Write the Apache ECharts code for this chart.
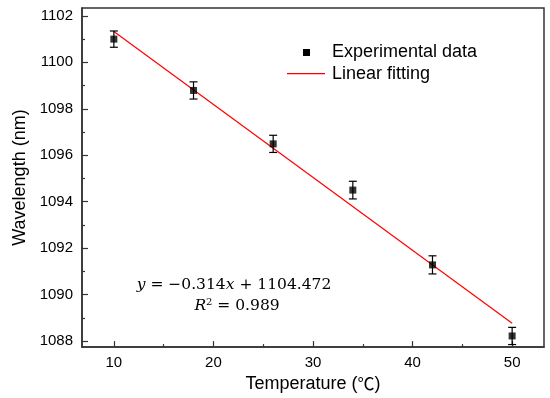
<!DOCTYPE html>
<html>
<head>
<meta charset="utf-8">
<script src="https://cdn.jsdelivr.net/npm/echarts@6/dist/echarts.min.js"></script>
<style>
html,body{margin:0;padding:0;background:#fff;}
#chart{width:550px;height:398px;}
</style>
</head>
<body>
<div id="chart"></div>
<script>
// Data
var temperatures = [10, 18, 26, 34, 42, 50];
var wavelengths = [1101.0, 1098.79, 1096.49, 1094.50, 1091.28, 1088.22];
var errors = [0.35, 0.37, 0.37, 0.38, 0.39, 0.37];
var fitX = [10, 50];
var fitY = [1101.33, 1088.77];
var xMajorTicks = [10, 20, 30, 40, 50];
var xMinorTicks = [15, 25, 35, 45];
var yMajorTicks = [1088, 1090, 1092, 1094, 1096, 1098, 1100, 1102];
var yMinorTicks = [1089, 1091, 1093, 1095, 1097, 1099, 1101];
var seriesNames = ['Experimental data', 'Linear fitting'];
var equationLine1 = '{i|y}{n| = −0.314}{i|x}{n| + 1104.472}';
var equationLine2 = '{i|R}{s|2}{n| = 0.989}';

var FONT = '"Liberation Sans", Arial, "Noto Sans CJK SC", sans-serif';
var CJK = '"Noto Sans CJK SC", sans-serif';
var MATH = '"DejaVu Serif", "Liberation Serif", serif';
var AXIS_COLOR = '#333';

var scatterData = temperatures.map(function (t, i) { return [t, wavelengths[i]]; });
var errorData = temperatures.map(function (t, i) { return [t, wavelengths[i] - errors[i], wavelengths[i] + errors[i]]; });
var fitData = fitX.map(function (x, i) { return [x, fitY[i]]; });

var chart = echarts.init(document.getElementById('chart'), null, {renderer: 'canvas'});

function plain(v) { return String(v); }

function xAxisBase(extra) {
  var a = {
    type: 'value', min: 6.8, max: 53.2, position: 'bottom',
    splitLine: {show: false},
    axisLine: {show: true, onZero: false, lineStyle: {color: AXIS_COLOR, width: 1.5}}
  };
  for (var k in extra) a[k] = extra[k];
  return a;
}
function yAxisBase(extra) {
  var a = {
    type: 'value', min: 1087.74, max: 1102.34, position: 'left',
    splitLine: {show: false},
    axisLine: {show: true, onZero: false, lineStyle: {color: AXIS_COLOR, width: 1.5}}
  };
  for (var k in extra) a[k] = extra[k];
  return a;
}

var option = {
  animation: false,
  backgroundColor: '#fff',
  grid: {left: 82, right: 6, top: 8, bottom: 50, show: true, borderColor: AXIS_COLOR, borderWidth: 1.5, backgroundColor: 'transparent'},
  xAxis: [
    xAxisBase({
      axisTick: {show: true, inside: true, length: 6, customValues: xMajorTicks, lineStyle: {color: AXIS_COLOR, width: 1.2}},
      axisLabel: {show: true, customValues: xMajorTicks, formatter: plain, fontSize: 15, color: '#000', fontFamily: FONT, margin: 8},
      name: 'Temperature ({c|℃})', nameLocation: 'middle', nameGap: 26,
      nameTextStyle: {fontSize: 18, color: '#000', fontFamily: FONT,
        rich: {c: {fontSize: 17, fontFamily: CJK, color: '#000'}}}
    }),
    xAxisBase({
      axisLine: {show: false},
      axisTick: {show: true, inside: true, length: 3, customValues: xMinorTicks, lineStyle: {color: AXIS_COLOR, width: 1.2}},
      axisLabel: {show: false}
    })
  ],
  yAxis: [
    yAxisBase({
      axisTick: {show: true, inside: true, length: 6, customValues: yMajorTicks, lineStyle: {color: AXIS_COLOR, width: 1.2}},
      axisLabel: {show: true, customValues: yMajorTicks, formatter: plain, fontSize: 15, color: '#000', fontFamily: FONT, margin: 9},
      name: 'Wavelength (nm)', nameLocation: 'middle', nameGap: 53, nameRotate: 90,
      nameTextStyle: {fontSize: 18, color: '#000', fontFamily: FONT}
    }),
    yAxisBase({
      axisLine: {show: false},
      axisTick: {show: true, inside: true, length: 3, customValues: yMinorTicks, lineStyle: {color: AXIS_COLOR, width: 1.2}},
      axisLabel: {show: false}
    })
  ],
  series: [
    {
      type: 'line', name: seriesNames[1], data: fitData, showSymbol: false, symbol: 'none',
      lineStyle: {color: '#ff0000', width: 1.2}, z: 2
    },
    {
      type: 'custom', name: 'error', data: errorData, z: 3,
      renderItem: function (params, api) {
        var x = api.value(0);
        var lo = api.coord([x, api.value(1)]);
        var hi = api.coord([x, api.value(2)]);
        var hw = 4;
        var st = {stroke: '#000', lineWidth: 1.2};
        return {
          type: 'group',
          children: [
            {type: 'line', shape: {x1: lo[0], y1: lo[1], x2: hi[0], y2: hi[1]}, style: st},
            {type: 'line', shape: {x1: lo[0] - hw, y1: lo[1], x2: lo[0] + hw, y2: lo[1]}, style: st},
            {type: 'line', shape: {x1: hi[0] - hw, y1: hi[1], x2: hi[0] + hw, y2: hi[1]}, style: st}
          ]
        };
      }
    },
    {
      type: 'scatter', name: seriesNames[0], data: scatterData, symbol: 'rect', symbolSize: 7,
      itemStyle: {color: '#000'}, z: 4
    }
  ],
  graphic: [
    {type: 'rect', shape: {x: 303, y: 49, width: 7, height: 7}, style: {fill: '#000'}},
    {type: 'text', x: 332, y: 52, style: {text: seriesNames[0], font: '18px ' + FONT, fill: '#000', verticalAlign: 'middle', align: 'left'}},
    {type: 'rect', shape: {x: 287, y: 73, width: 38, height: 1.3}, style: {fill: '#ff0000'}},
    {type: 'text', x: 332, y: 74, style: {text: seriesNames[1], font: '18px ' + FONT, fill: '#000', verticalAlign: 'middle', align: 'left'}},
    {type: 'text', x: 234, y: 285, style: {
      text: equationLine1, align: 'center', verticalAlign: 'middle', fill: '#000',
      rich: {
        i: {fontFamily: MATH, fontSize: 15.5, fontStyle: 'italic', lineHeight: 18, fill: '#000'},
        n: {fontFamily: MATH, fontSize: 15.5, lineHeight: 18, fill: '#000'}
      }
    }},
    {type: 'text', x: 237, y: 306, style: {
      text: equationLine2, align: 'center', verticalAlign: 'middle', fill: '#000',
      rich: {
        i: {fontFamily: MATH, fontSize: 15.5, fontStyle: 'italic', lineHeight: 18, fill: '#000'},
        n: {fontFamily: MATH, fontSize: 15.5, lineHeight: 18, fill: '#000'},
        s: {fontFamily: MATH, fontSize: 10, lineHeight: 10, verticalAlign: 'top', fill: '#000'}
      }
    }}
  ]
};
chart.setOption(option);
</script>
</body>
</html>
